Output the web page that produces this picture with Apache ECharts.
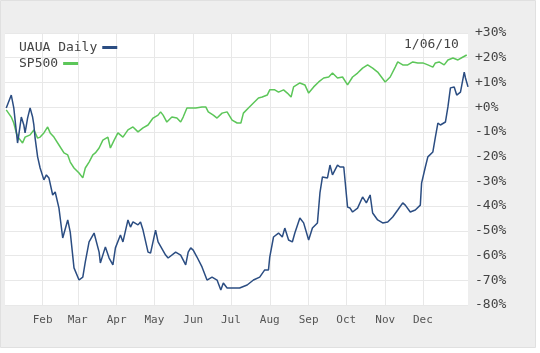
<!DOCTYPE html>
<html>
<head>
<meta charset="utf-8">
<script src="https://cdn.jsdelivr.net/npm/echarts@6/dist/echarts.min.js"></script>
<style>
  html, body { margin: 0; padding: 0; background: #fff; }
  #chart { width: 540px; height: 353px; }
</style>
</head>
<body>
<div id="chart"></div>
<script>
// x values are days counted from 1 Jan 2009 (day 0)
const monthDays = [31, 59, 90, 120, 151, 181, 212, 243, 273, 304, 334];
const monthNames = ['Feb', 'Mar', 'Apr', 'May', 'Jun', 'Jul', 'Aug', 'Sep', 'Oct', 'Nov', 'Dec'];
const yTicks = [-80, -70, -60, -50, -40, -30, -20, -10, 0, 10, 20, 30];

// UAUA daily % change
const uaDays = [2, 6, 8, 11, 12, 14, 16, 17, 19, 21, 23, 24, 25, 27, 29, 32, 34, 36, 39, 41,
  44, 47, 51, 53, 56, 60, 63, 65, 68, 72, 73, 76, 77, 81, 84, 87, 89, 93, 95, 99,
  101, 103, 107, 109, 111, 115, 117, 121, 123, 129, 131, 137, 141, 145, 147, 149, 151, 154, 158, 162,
  166, 170, 173, 175, 178, 183, 188, 194, 199, 204, 208, 211, 212, 215, 219, 222, 224, 227, 230, 232,
  236, 239, 243, 246, 250, 252, 254, 258, 260, 262, 266, 268, 271, 274, 276, 278, 282, 286, 289, 292,
  294, 298, 302, 306, 310, 314, 318, 320, 324, 328, 332, 333, 336, 338, 342, 344, 346, 348, 352, 354,
  356, 359, 361, 364, 367, 368, 370];
const uaPct = [-0.3, 4.9, -0.3, -14.5, -11.2, -4.0, -7.2, -10.4, -4.4, -0.3, -4.0, -7.2, -12.5, -20.1, -24.6, -29.4, -27.4, -28.6, -35.5, -34.3,
  -40.8, -52.9, -45.6, -50.5, -65.0, -69.9, -68.7, -62.6, -54.5, -50.9, -51.7, -58.6, -63.0, -56.5, -61.0, -63.8, -56.9, -51.7, -54.5, -45.6,
  -48.5, -46.4, -47.6, -46.4, -49.7, -58.6, -59.0, -49.7, -54.5, -59.8, -61.0, -58.6, -59.8, -63.8, -58.6, -56.9, -57.8, -60.6, -64.6, -69.9,
  -68.7, -69.9, -73.9, -71.1, -73.1, -73.1, -73.1, -71.9, -69.9, -68.7, -65.8, -65.8, -60.6, -52.5, -50.9, -52.5, -48.9, -53.7, -54.5, -50.9,
  -44.8, -46.8, -53.7, -48.9, -46.8, -34.7, -28.2, -28.6, -23.4, -27.4, -23.4, -24.2, -24.2, -40.4, -40.8, -42.4, -40.8, -36.3, -38.7, -35.5,
  -42.8, -45.6, -46.8, -46.4, -44.4, -41.6, -38.7, -39.6, -42.4, -41.6, -39.6, -30.7, -24.2, -20.1, -18.1, -12.1, -6.4, -7.2, -6.0, 0.1,
  7.8, 8.2, 4.9, 6.1, 14.2, 11.8, 8.2];

// SP500 % change
const spDays = [2, 6, 8, 10, 12, 15, 17, 21, 24, 27, 29, 32, 35, 37, 40, 44, 48, 51, 53, 56,
  60, 63, 65, 68, 71, 73, 76, 79, 83, 85, 88, 91, 95, 99, 103, 107, 111, 115, 119, 123,
  125, 127, 130, 134, 138, 141, 143, 146, 149, 153, 158, 161, 163, 167, 170, 174, 178, 182, 186, 189,
  191, 195, 199, 203, 206, 210, 212, 216, 219, 223, 226, 229, 231, 236, 240, 243, 247, 251, 255, 259,
  262, 266, 270, 274, 278, 282, 286, 290, 294, 298, 301, 304, 308, 312, 314, 318, 322, 326, 330, 334,
  338, 342, 344, 347, 351, 354, 358, 362, 366, 369];
const spPct = [-1.1, -4.0, -6.4, -10.4, -12.5, -14.5, -12.1, -11.2, -9.2, -12.5, -12.1, -10.4, -8.0, -10.4, -12.1, -15.3, -18.5, -19.3, -22.2, -24.6,
  -26.6, -28.6, -24.6, -22.2, -19.3, -18.5, -16.5, -13.3, -12.1, -16.5, -13.3, -10.4, -12.1, -9.2, -8.0, -10.0, -8.4, -7.2, -4.4, -3.2,
  -1.9, -3.2, -6.0, -4.0, -4.4, -6.0, -4.0, -0.3, -0.3, -0.3, 0.1, 0.1, -1.9, -3.2, -4.4, -2.4, -1.9, -5.2, -6.4, -6.4,
  -2.4, -0.3, 1.7, 3.7, 4.1, 4.9, 7.0, 7.0, 6.1, 7.0, 5.7, 4.1, 8.2, 9.8, 9.0, 5.7, 8.2, 10.2, 11.8, 12.2,
  13.8, 11.8, 12.2, 9.0, 12.2, 13.8, 15.8, 17.1, 15.8, 14.2, 12.2, 10.2, 12.2, 16.2, 18.3, 17.1, 17.1, 18.3, 17.9, 17.9,
  17.1, 16.2, 17.9, 18.3, 17.1, 19.1, 19.9, 19.1, 20.3, 21.1];

const pixelFont = '"DejaVu Sans Mono", monospace';

// legend: text first, colour bar after it
const legendBase = {
  left: 14,
  align: 'right',
  icon: 'rect',
  itemWidth: 15,
  itemHeight: 3,
  textStyle: { fontFamily: pixelFont, fontSize: 13, color: '#444' }
};

const chart = echarts.init(document.getElementById('chart'));
chart.setOption({
  backgroundColor: '#ffffff',
  animation: false,
  graphic: [{
    type: 'rect',
    shape: { x: 0.5, y: 0.5, width: 535, height: 347 },
    style: { fill: '#eeeeee', stroke: '#e0e0e0', lineWidth: 1 },
    z: -10
  }],
  title: {
    text: '1/06/10',
    left: 399,
    top: 33,
    textStyle: { fontFamily: pixelFont, fontSize: 13, fontWeight: 'normal', color: '#444' }
  },
  legend: [
    Object.assign({}, legendBase, { top: 36, data: ['UAUA Daily'] }),
    Object.assign({}, legendBase, { top: 52, data: ['SP500'] })
  ],
  grid: {
    left: 5, right: 72, top: 33, bottom: 48,
    show: true, backgroundColor: '#ffffff', borderWidth: 0
  },
  xAxis: {
    type: 'value',
    min: 1,
    max: 370,
    axisLine: { show: false },
    axisTick: { show: false, customValues: monthDays },
    axisLabel: {
      customValues: monthDays,
      margin: 10,
      fontFamily: pixelFont,
      fontSize: 11,
      color: '#555',
      formatter: v => monthNames[monthDays.indexOf(v)] || ''
    },
    splitLine: { show: true, lineStyle: { color: '#e8e8e8', width: 1 } }
  },
  yAxis: {
    type: 'value',
    position: 'right',
    min: -80,
    max: 30,
    interval: 10,
    axisLine: { show: false },
    axisTick: { show: false },
    axisLabel: {
      margin: 7,
      fontFamily: pixelFont,
      fontSize: 13,
      color: '#444',
      padding: [4, 0, 0, 0],
      formatter: v => (v >= 0 ? '+' : '') + v + '%'
    },
    splitLine: { show: true, lineStyle: { color: '#e8e8e8', width: 1 } }
  },
  series: [
    {
      name: 'SP500',
      type: 'line',
      showSymbol: false,
      color: '#5cc659',
      lineStyle: { width: 1.5, color: '#5cc659' },
      data: spDays.map((d, i) => [d, spPct[i]]),
      z: 2
    },
    {
      name: 'UAUA Daily',
      type: 'line',
      showSymbol: false,
      color: '#2b4d82',
      lineStyle: { width: 1.5, color: '#2b4d82' },
      data: uaDays.map((d, i) => [d, uaPct[i]]),
      z: 3
    }
  ]
});
</script>
</body>
</html>
